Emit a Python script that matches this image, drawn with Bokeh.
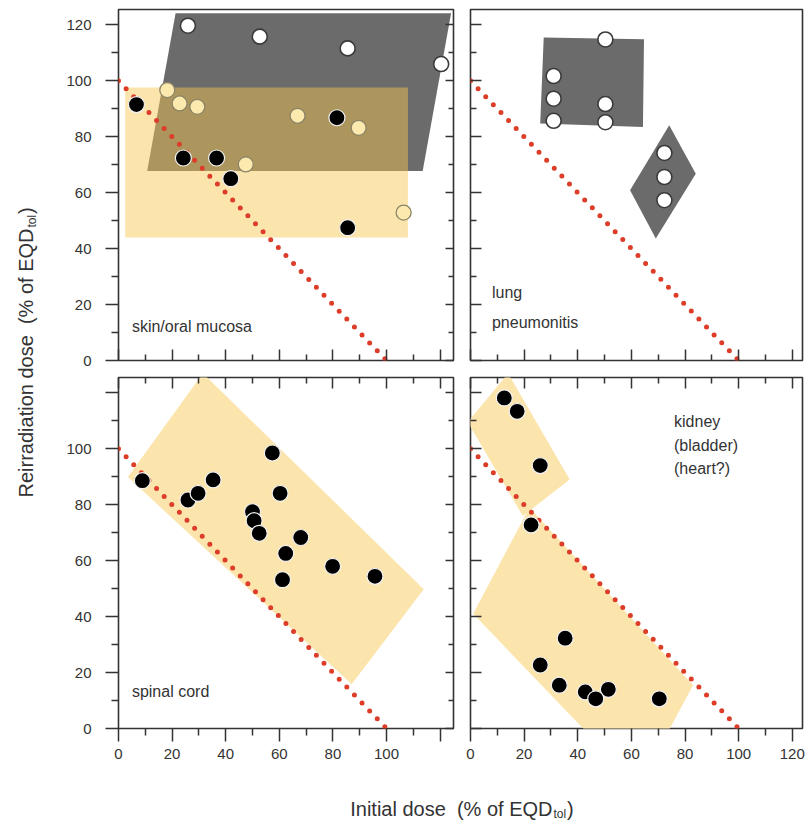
import math
from bokeh.plotting import figure
from bokeh.models import Range1d, LinearAxis, FixedTicker, CustomJSTickFormatter
from bokeh.layouts import row, column
from bokeh.embed import file_html
from bokeh.resources import INLINE
from bokeh.core.properties import value

FONT = "Liberation Sans"
INK = "#333333"
GREY = "#6b6b6b"
YEL_ALPHA = "#f9c850"
YEL = "#fce5ad"
RED = "#dc3d28"

# ---- tolerance line (sum = 100 %) ----
tol_x = [0, 100]
tol_y = [100, 0]

# ---- skin / oral mucosa ----
skin_grey_x = [10.7, 21.3, 124.1, 113.5]
skin_grey_y = [67.8, 124.2, 124.2, 67.8]
skin_yel_x = [2.5, 108.0, 108.0, 2.5]
skin_yel_y = [44.0, 44.0, 97.6, 97.6]
skin_open_x = [25.9, 52.7, 85.5, 120.4]
skin_open_y = [119.7, 115.8, 111.6, 106.0]
skin_pale_x = [18.2, 22.8, 29.4, 66.8, 89.6, 47.5, 106.4]
skin_pale_y = [96.7, 91.9, 90.7, 87.5, 83.2, 70.1, 52.9]
skin_black_x = [6.7, 24.2, 36.6, 41.9, 81.5, 85.5]
skin_black_y = [91.5, 72.4, 72.4, 65.0, 86.8, 47.5]

# ---- lung pneumonitis ----
lung_rect_x = [27.3, 64.7, 64.3, 26.0]
lung_rect_y = [115.5, 114.9, 83.5, 84.7]
lung_diam_x = [74.1, 84.0, 69.1, 59.5]
lung_diam_y = [84.1, 66.8, 43.6, 60.9]
lung_open_x = [50.3, 31.0, 31.0, 31.0, 50.3, 50.3, 72.3, 72.3, 72.3]
lung_open_y = [114.8, 101.7, 93.6, 85.7, 91.7, 85.2, 74.2, 65.6, 57.3]

# ---- spinal cord ----
cord_band_x = [3.5, 31.5, 113.9, 87.0]
cord_band_y = [89.9, 127.0, 49.8, 15.8]
cord_x = [8.9, 25.9, 29.7, 35.3, 57.4, 60.3, 50.0, 50.6, 52.5, 68.0, 62.4, 61.2, 79.9, 95.7]
cord_y = [88.6, 81.7, 84.1, 88.9, 98.5, 84.1, 77.5, 74.3, 69.8, 68.3, 62.6, 53.2, 58.0, 54.4]

# ---- kidney (bladder) (heart?) ----
kid_up_x = [14.0, 37.0, 19.5, -1.0]
kid_up_y = [127.0, 89.0, 76.0, 109.5]
kid_low_x = [1.0, 22.0, 83.0, 72.1, 46.0]
kid_low_y = [41.0, 79.0, 15.5, -4.0, -4.0]
kid_x = [12.6, 17.4, 26.0, 22.6, 35.3, 26.0, 33.1, 42.8, 51.4, 46.7, 70.4]
kid_y = [118.2, 113.4, 94.0, 72.8, 32.3, 22.7, 15.5, 13.1, 14.0, 10.6, 10.6]

# ---- ticks ----
major_ticks = [0, 20, 40, 60, 80, 100, 120]
minor_ticks = [10, 30, 50, 70, 90, 110]

YMAX = 125.5
XMAX_L = 125.0
XMAX_R = 123.8


def panel(width, height, xmax, bl, br, bt, bb):
    p = figure(width=width, height=height,
               x_range=Range1d(0, xmax), y_range=Range1d(0, YMAX),
               output_backend="svg", toolbar_location=None,
               x_axis_location=None, y_axis_location=None,
               min_border_left=bl, min_border_right=br,
               min_border_top=bt, min_border_bottom=bb)
    p.grid.visible = False
    p.outline_line_color = INK
    p.outline_line_width = 1.6
    p.background_fill_color = "white"
    p.border_fill_color = "white"
    return p


def add_axis(p, side, tin, tout, mtin, mtout, labels=False, standoff=0, overrides=None):
    ax = LinearAxis(ticker=FixedTicker(ticks=major_ticks, minor_ticks=minor_ticks))
    ax.axis_line_color = None
    ax.major_tick_in = tin
    ax.major_tick_out = tout
    ax.minor_tick_in = mtin
    ax.minor_tick_out = mtout
    ax.major_tick_line_color = INK
    ax.minor_tick_line_color = INK
    ax.major_tick_line_width = 1.5
    ax.minor_tick_line_width = 1.5
    if labels:
        ax.major_label_text_font = FONT
        ax.major_label_text_font_size = "15px"
        ax.major_label_text_color = INK
        ax.major_label_standoff = standoff
        if overrides:
            ax.major_label_overrides = overrides
    else:
        ax.formatter = CustomJSTickFormatter(code="return ''")
        ax.major_label_text_font_size = "0px"
        ax.major_label_standoff = 0
    p.add_layout(ax, side)
    return ax


def tol_line(p):
    p.line(tol_x, tol_y, line_color=RED, line_width=5, line_dash="0 11", line_cap="round")


def panel_text(p, xs, ys, texts):
    p.text(x=xs, y=ys, text=texts, text_font=value(FONT), text_font_size="16px",
           text_color=INK, text_align="left", text_baseline="middle")


def dots(p, xs, ys, kind, size):
    if kind == "black":
        p.scatter(xs, ys, size=size, fill_color="black", line_color="#f2f2f2", line_width=1.2)
    elif kind == "open":
        p.scatter(xs, ys, size=size, fill_color="white", line_color="#3a3a3a", line_width=1.6)
    else:
        p.scatter(xs, ys, size=size, fill_color="#fce9ae", line_color="#8c8466", line_width=1.3)


# ---------------- top-left: skin ----------------
tl = panel(418, 368, XMAX_L, 74, 9, 9, 8)
add_axis(tl, "left", 0, 13, 0, 7, labels=True, standoff=14)
add_axis(tl, "below", 11, 0, 6, 0)
add_axis(tl, "right", 8, 0, 5, 0)
tl.patch(skin_grey_x, skin_grey_y, fill_color=GREY, line_color=None)
tl.patch(skin_yel_x, skin_yel_y, fill_color=YEL_ALPHA, fill_alpha=0.47, line_color=None)
tol_line(tl)
dots(tl, skin_open_x, skin_open_y, "open", 15)
dots(tl, skin_pale_x, skin_pale_y, "pale", 15)
dots(tl, skin_black_x, skin_black_y, "black", 16)
panel_text(tl, [5.0], [12.0], ["skin/oral mucosa"])

# ---------------- top-right: lung ----------------
tr = panel(343, 368, XMAX_R, 8, 3, 9, 8)
add_axis(tr, "left", 11, 0, 6, 0)
add_axis(tr, "below", 11, 0, 6, 0)
tr.patch(lung_rect_x, lung_rect_y, fill_color=GREY, line_color=None)
tr.patch(lung_diam_x, lung_diam_y, fill_color=GREY, line_color=None)
tol_line(tr)
dots(tr, lung_open_x, lung_open_y, "open", 15)
panel_text(tr, [8.0, 8.0], [24.3, 13.6], ["lung", "pneumonitis"])

# ---------------- bottom-left: spinal cord ----------------
bl = panel(418, 402, XMAX_L, 74, 9, 9, 42)
add_axis(bl, "left", 0, 13, 0, 7, labels=True, standoff=14, overrides={120: ""})
add_axis(bl, "below", 0, 13, 0, 7, labels=True, standoff=7, overrides={120: ""})
add_axis(bl, "above", 11, 0, 6, 0)
add_axis(bl, "right", 8, 0, 5, 0)
bl.patch(cord_band_x, cord_band_y, fill_color=YEL, line_color=None)
tol_line(bl)
dots(bl, cord_x, cord_y, "black", 16)
panel_text(bl, [5.0], [13.4], ["spinal cord"])

# ---------------- bottom-right: kidney ----------------
br = panel(343, 402, XMAX_R, 8, 3, 9, 42)
add_axis(br, "left", 11, 0, 6, 0)
add_axis(br, "below", 0, 13, 0, 7, labels=True, standoff=7)
add_axis(br, "above", 11, 0, 6, 0)
br.patch(kid_up_x, kid_up_y, fill_color=YEL, line_color=None)
br.patch(kid_low_x, kid_low_y, fill_color=YEL, line_color=None)
tol_line(br)
dots(br, kid_x, kid_y, "black", 16)
panel_text(br, [75.9, 75.9, 75.9], [109.6, 101.2, 92.8], ["kidney", "(bladder)", "(heart?)"])

# ---------------- axis titles ----------------
NB = "\u00a0"
TITLE_SIZE = "20px"
SUB_SIZE = "12px"

yt = figure(width=44, height=770, x_range=Range1d(0, 44), y_range=Range1d(0, 770),
            output_backend="svg", toolbar_location=None,
            x_axis_location=None, y_axis_location=None, min_border=0)
yt.grid.visible = False
yt.outline_line_color = None
# screen y -> data y : 770 - sy ; text reads upward
y_end = 770 - 228.0
yt.text(x=[25], y=[y_end], text=["Reirradiation dose" + NB + NB + "(% of EQD"], angle=math.pi / 2,
        text_font=value(FONT), text_font_size=TITLE_SIZE, text_color=INK,
        text_align="right", text_baseline="middle")
yt.text(x=[31.5], y=[y_end + 1], text=["tol"], angle=math.pi / 2,
        text_font=value(FONT), text_font_size=SUB_SIZE, text_color=INK,
        text_align="left", text_baseline="middle")
yt.text(x=[25], y=[y_end + 14.5], text=[")"], angle=math.pi / 2,
        text_font=value(FONT), text_font_size=TITLE_SIZE, text_color=INK,
        text_align="left", text_baseline="middle")

xt = figure(width=805, height=54, x_range=Range1d(0, 805), y_range=Range1d(0, 54),
            output_backend="svg", toolbar_location=None,
            x_axis_location=None, y_axis_location=None, min_border=0)
xt.grid.visible = False
xt.outline_line_color = None
x_end = 552.0
xt.text(x=[x_end], y=[16], text=["Initial dose" + NB + NB + "(% of EQD"],
        text_font=value(FONT), text_font_size=TITLE_SIZE, text_color=INK,
        text_align="right", text_baseline="middle")
xt.text(x=[x_end + 1], y=[11], text=["tol"],
        text_font=value(FONT), text_font_size=SUB_SIZE, text_color=INK,
        text_align="left", text_baseline="middle")
xt.text(x=[x_end + 14.5], y=[16], text=[")"],
        text_font=value(FONT), text_font_size=TITLE_SIZE, text_color=INK,
        text_align="left", text_baseline="middle")

grid = column(row(tl, tr, spacing=0), row(bl, br, spacing=0), spacing=0)
layout = column(row(yt, grid, spacing=0), xt, spacing=0)

open("out.html", "w").write(file_html(layout, INLINE))
